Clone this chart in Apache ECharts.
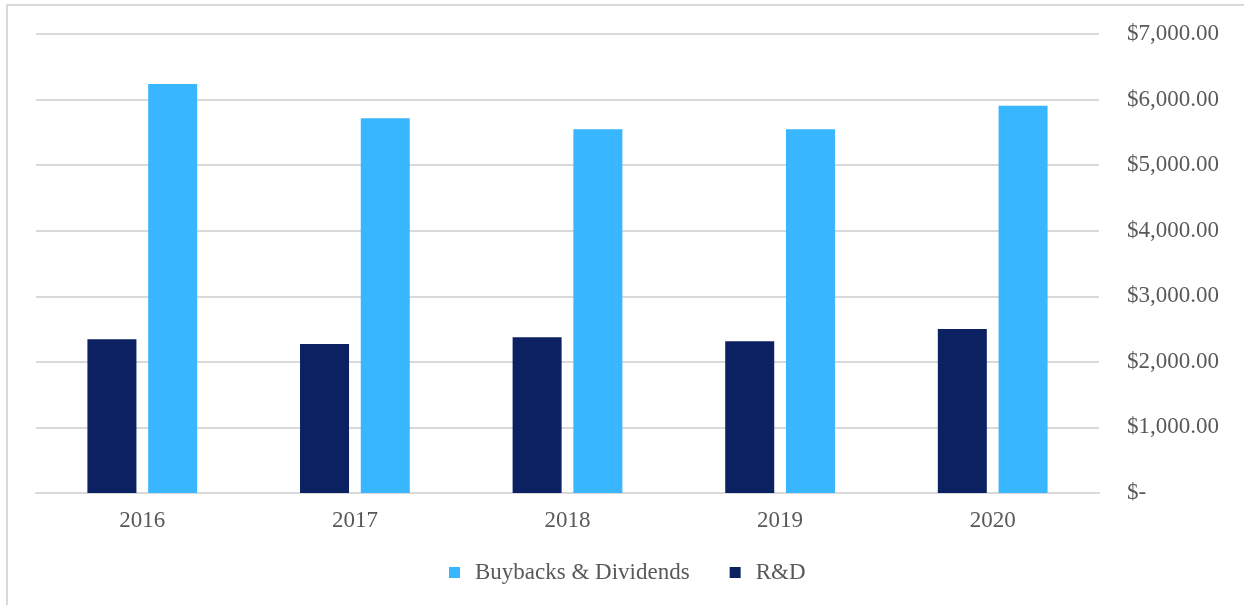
<!DOCTYPE html>
<html>
<head>
<meta charset="utf-8">
<script src="https://cdn.jsdelivr.net/npm/echarts@6/dist/echarts.min.js"></script>
<style>
html,body{margin:0;padding:0;background:#fff;}
#chart{width:1244px;height:605px;}
</style>
</head>
<body>
<div id="chart"></div>
<script>
const years = ['2016', '2017', '2018', '2019', '2020'];
const rnd = [2344, 2272, 2374, 2313, 2501];
const buybacks = [6238, 5714, 5547, 5547, 5907];
const seriesNames = ['Buybacks & Dividends', 'R&D'];

const font = '"Liberation Serif", "Times New Roman", serif';
const textColor = '#595959';

const chart = echarts.init(document.getElementById('chart'), null, {renderer: 'canvas'});
chart.setOption({
  animation: false,
  backgroundColor: '#ffffff',
  graphic: [{
    type: 'rect',
    shape: {x: 7, y: 5, width: 1400, height: 800},
    style: {fill: 'none', stroke: '#d9d9d9', lineWidth: 2},
    silent: true
  }],
  grid: {left: 36, right: 145, top: 34, bottom: 112},
  legend: {
    data: seriesNames,
    left: 444,
    top: 556,
    icon: 'rect',
    itemWidth: 11,
    itemHeight: 11,
    itemGap: 40,
    textStyle: {fontFamily: font, fontSize: 23, color: textColor, padding: [0, 0, 0, 10]}
  },
  xAxis: {
    type: 'category',
    data: years,
    axisLine: {show: true, lineStyle: {color: '#d9d9d9', width: 2}},
    axisTick: {show: false},
    axisLabel: {fontFamily: font, fontSize: 23, color: textColor, margin: 16}
  },
  yAxis: {
    type: 'value',
    position: 'right',
    min: 0,
    max: 7000,
    interval: 1000,
    axisLine: {show: false},
    axisTick: {show: false},
    splitLine: {lineStyle: {color: '#d9d9d9', width: 2}},
    axisLabel: {
      fontFamily: font, fontSize: 23, color: textColor, margin: 28,
      formatter: function (v) {
        if (v === 0) return '$-';
        return '$' + v.toLocaleString('en-US', {minimumFractionDigits: 2, maximumFractionDigits: 2});
      }
    }
  },
  series: [
    {
      name: 'R&D',
      type: 'bar',
      data: rnd,
      barWidth: 49,
      barGap: '24%',
      itemStyle: {color: '#0b2161'}
    },
    {
      name: 'Buybacks & Dividends',
      type: 'bar',
      data: buybacks,
      barWidth: 49,
      barGap: '24%',
      itemStyle: {color: '#38b6ff'}
    }
  ]
});
</script>
</body>
</html>
